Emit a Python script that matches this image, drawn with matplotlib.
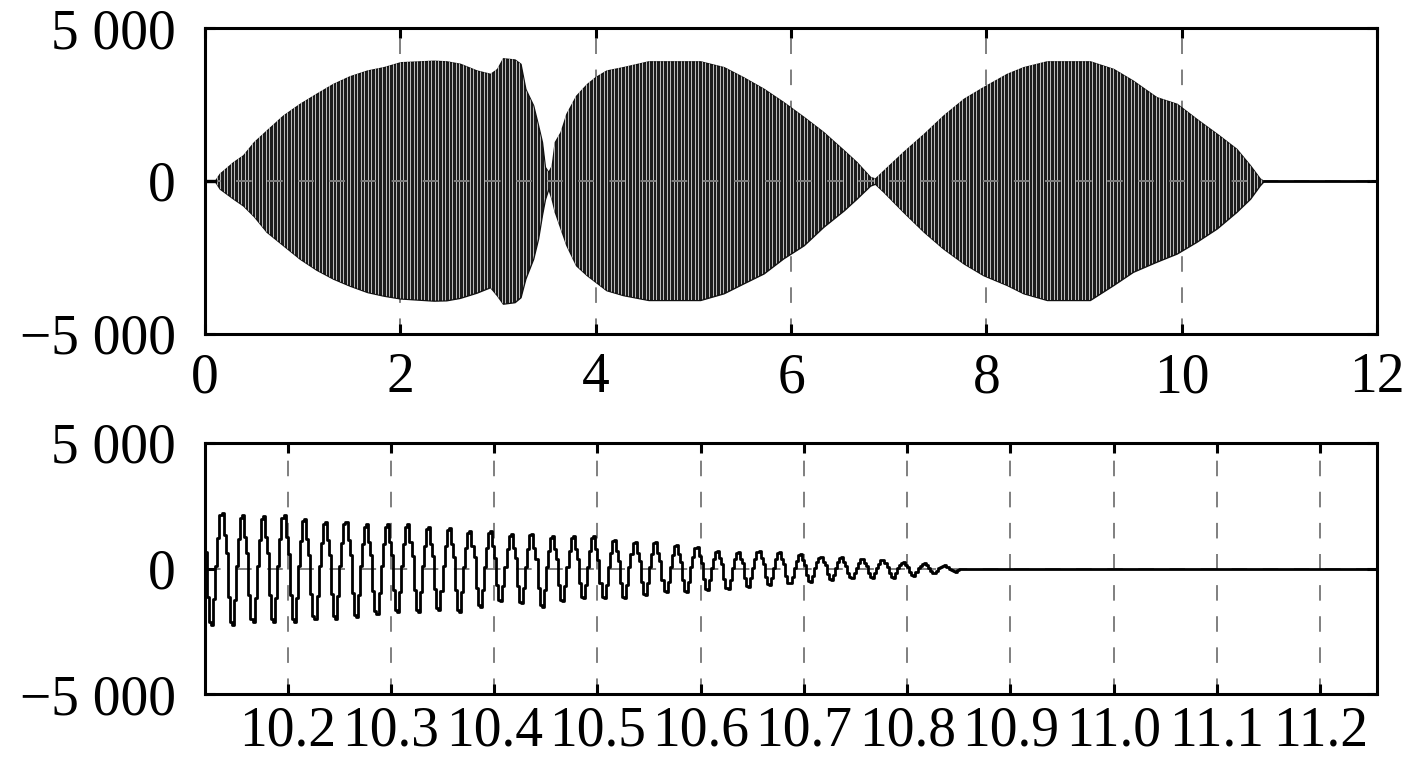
import matplotlib.pyplot as plt
import numpy as np

plt.rcParams['font.family'] = ['Liberation Serif', 'DejaVu Serif']
plt.rcParams['axes.unicode_minus'] = True

# --- top panel: envelope of the oscillation (time s, value)
env_t = [0.10, 0.15, 0.29, 0.39, 0.50, 0.63, 0.80, 0.97, 1.14, 1.31, 1.48, 1.66,
         1.83, 2.00, 2.34, 2.47, 2.61, 2.78, 2.92, 2.99, 3.05, 3.17, 3.23, 3.28,
         3.36, 3.41, 3.45, 3.48, 3.515, 3.55, 3.58, 3.64, 3.70, 3.80, 3.91, 4.00,
         4.11, 4.28, 4.54, 5.07, 5.31, 5.51, 5.72, 5.92, 6.13, 6.33, 6.54, 6.67,
         6.81, 6.86, 6.95, 7.15, 7.36, 7.56, 7.77, 7.97, 8.21, 8.38, 8.62, 9.06,
         9.30, 9.50, 9.74, 9.95, 10.15, 10.36, 10.56, 10.70, 10.80, 10.84]
env_up = [0, 240, 620, 840, 1270, 1650, 2140, 2520, 2850, 3170, 3420, 3610,
          3720, 3880, 3930, 3910, 3830, 3610, 3500, 3660, 4010, 3970, 3830, 3010,
          2470, 1820, 1270, 460, 290, 510, 1270, 1600, 2200, 2790, 3170, 3400,
          3610, 3720, 3910, 3910, 3720, 3390, 3010, 2580, 2090, 1600, 1000, 620,
          130, 80, 350, 950, 1540, 2140, 2690, 3070, 3500, 3720, 3910, 3910,
          3660, 3280, 2740, 2520, 2030, 1540, 1050, 510, 80, 0]
env_lo = [0, -250, -580, -800, -1150, -1660, -2100, -2540, -2900, -3190, -3420, -3630,
          -3750, -3840, -3910, -3900, -3820, -3650, -3470, -3740, -4010, -3960, -3800, -3190,
          -2540, -1880, -1100, -600, -250, -600, -1000, -1550, -2100, -2760, -3080, -3300,
          -3570, -3730, -3890, -3890, -3670, -3350, -3020, -2530, -2100, -1500, -960, -580,
          -150, -90, -360, -1010, -1660, -2210, -2700, -3080, -3400, -3670, -3890, -3890,
          -3400, -2970, -2640, -2370, -1990, -1550, -1010, -580, -140, 0]
flat_start = [0.0, 0.10]
flat_end = [10.84, 12.0]

# --- bottom panel: per-cycle trough / peak values (50 Hz, from 10.12 s)
trough_amp = [2240, 2260, 2130, 2130, 2130, 2000, 2000, 1930, 1800, 1730, 1730, 1660,
              1730, 1530, 1300, 1390, 1530, 1300, 1190, 1190, 1190, 1060, 950, 950,
              860, 820, 720, 660, 590, 520, 460, 360, 360, 360, 280, 190, 120]
peak_amp = [2230, 2120, 2090, 2120, 1980, 1860, 1860, 1760, 1760, 1760, 1650, 1620,
            1510, 1510, 1380, 1390, 1290, 1290, 1290, 1150, 1050, 1050, 950, 840,
            710, 660, 680, 660, 580, 440, 440, 390, 350, 240, 210, 120, 0]
# one sampled cycle of the staircase waveform (normalised)
cycle_shape = [0.3, -0.5, -0.95, -1.0, -0.55, 0.05, 0.55, 0.95, 1.0, 0.6]
b_start = 10.12
b_step = 0.002

top_xticks = [0, 2, 4, 6, 8, 10, 12]
bot_xticks = [10.2, 10.3, 10.4, 10.5, 10.6, 10.7, 10.8, 10.9, 11.0, 11.1, 11.2]
yticks = [-5000, 0, 5000]
ylabels = ['\u22125 000', '0', '5 000']

FS = 40
grid_kw = dict(color='#7f7f7f', linewidth=1.4, linestyle=(0, (8, 8)), zorder=0.5)

fig = plt.figure(figsize=(14.17, 7.63), dpi=100)
ax1 = fig.add_axes([0.1447, 0.5623, 0.8271, 0.4010])
ax2 = fig.add_axes([0.1447, 0.0904, 0.8271, 0.3290])


def style(ax, xticks, xlabels, xlim, xpad):
    ax.set_xlim(*xlim)
    ax.set_ylim(-5000, 5000)
    ax.set_xticks(xticks)
    ax.set_xticklabels(xlabels, fontsize=FS)
    ax.set_yticks(yticks)
    ax.set_yticklabels(ylabels, fontsize=FS)
    ax.tick_params(axis='x', direction='in', length=7, width=2.2, top=True, pad=xpad)
    ax.tick_params(axis='y', direction='in', length=7, width=2.2, right=True, pad=21)
    for s in ax.spines.values():
        s.set_linewidth(2.2)
        s.set_zorder(5)
    for x in xticks:
        if xlim[0] < x < xlim[1]:
            ax.axvline(x, **grid_kw)


# top panel
style(ax1, top_xticks, [str(v) for v in top_xticks], (0, 12), 13)
poly = ax1.fill_between(env_t, env_lo, env_up, color='#1c1c1c', edgecolor='#111111',
                        linewidth=1.0, zorder=2)
stripes = ax1.vlines(np.arange(0.12, 10.84, 0.036), -4200, 4200, color='white',
                     linewidth=0.5, zorder=3)
stripes.set_clip_path(poly.get_paths()[0], transform=ax1.transData)
ax1.axhline(0, color='#7f7f7f', linewidth=1.4, linestyle=(0, (8, 8)), zorder=3.5)
ax1.plot(flat_start, [0, 0], color='black', linewidth=2.4, zorder=4)
ax1.plot(flat_end, [0, 0], color='black', linewidth=2.0, zorder=4)

# bottom panel
style(ax2, bot_xticks, ['%.1f' % v for v in bot_xticks], (10.12, 11.255), 8)
ax2.axhline(0, **grid_kw)
vals = []
for tr, pk in zip(trough_amp, peak_amp):
    for s in cycle_shape:
        vals.append(s * pk if s > 0 else s * tr)
t_b = b_start + b_step * np.arange(len(vals))
t_b = np.append(t_b, [t_b[-1] + b_step, 11.255])
vals = vals + [0, 0]
ax2.plot(t_b, vals, color='black', linewidth=2.0, drawstyle='steps-post', zorder=3)

fig.savefig('out.png', dpi=100)
